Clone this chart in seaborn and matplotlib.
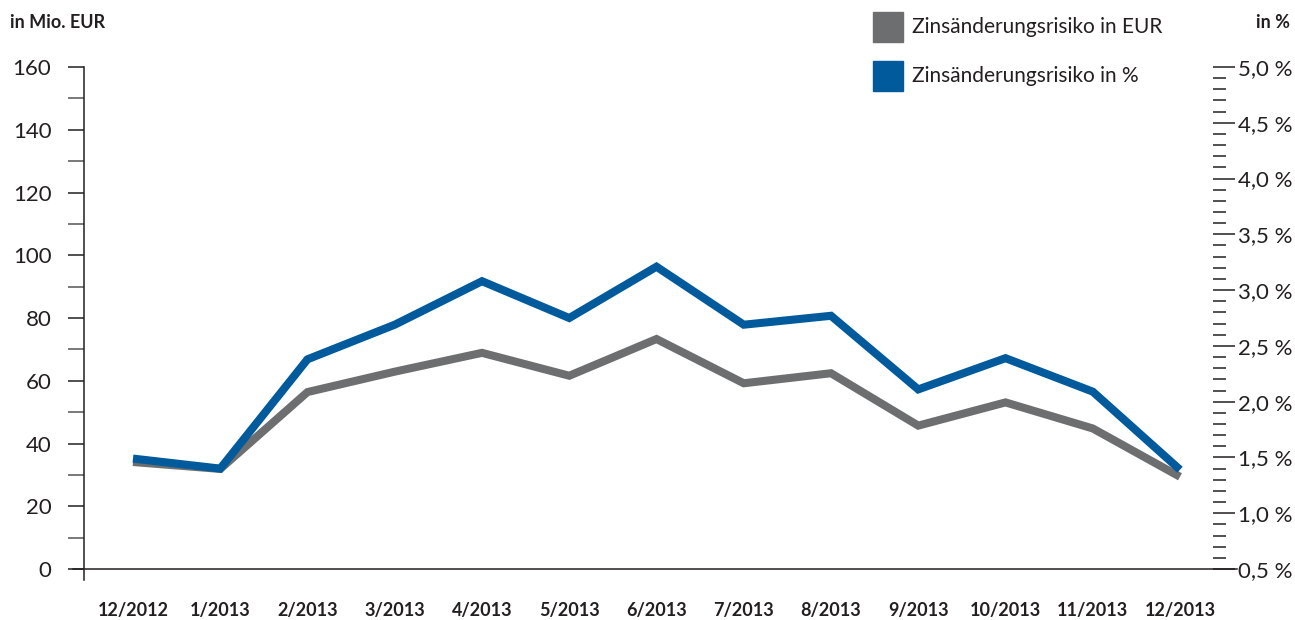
import numpy as np
import matplotlib
matplotlib.use("Agg")
import matplotlib.pyplot as plt
import seaborn as sns
from matplotlib.patches import Rectangle
from matplotlib.ticker import MultipleLocator, FuncFormatter

# ---- data ----
months = ["12/2012", "1/2013", "2/2013", "3/2013", "4/2013", "5/2013", "6/2013",
          "7/2013", "8/2013", "9/2013", "10/2013", "11/2013", "12/2013"]
risk_eur = [34.1, 31.9, 56.4, 62.9, 68.9, 61.6, 73.3, 59.2, 62.4, 45.7, 53.1, 44.8, 29.4]
risk_pct = [1.49, 1.40, 2.38, 2.69, 3.08, 2.75, 3.21, 2.69, 2.77, 2.11, 2.39, 2.09, 1.39]
label_eur = "Zinsänderungsrisiko in EUR"
label_pct = "Zinsänderungsrisiko in %"
left_unit = "in Mio. EUR"
right_unit = "in %"

GRAY = "#6d6e70"
BLUE = "#005a9c"
TXT = "#231f20"

sns.set_theme(style="white")
plt.rcParams["font.family"] = ["Lato", "DejaVu Sans"]

W, H = 1295, 620
fig = plt.figure(figsize=(W / 100, H / 100), dpi=100)
# axes spans pixel x 73..1237, y 67..580
ax = fig.add_axes([73 / W, 1 - 580 / H, (1237 - 73) / W, (580 - 67) / H])

x = np.arange(len(months))
sp = (1180 - 133) / 12.0
x_left = -(133 - 73) / sp
x_right = 12 + (1237 - 1180) / sp
x_lspine = -(133 - 84) / sp
x_rspine = 12 + (1213 - 1180) / sp

ybot = -3.5
ax.set_xlim(x_left, x_right)
ax.set_ylim(ybot, 160)

sns.lineplot(x=x, y=risk_eur, ax=ax, color=GRAY, linewidth=5.8, legend=False)
for ln in ax.lines:
    ln.set_solid_joinstyle("miter")
    ln.set_solid_capstyle("butt")

ax2 = ax.twinx()
ax2.set_ylim(0.5 + ybot * 4.5 / 160, 5.0)
sns.lineplot(x=x, y=risk_pct, ax=ax2, color=BLUE, linewidth=5.8, legend=False)
for ln in ax2.lines:
    ln.set_solid_joinstyle("miter")
    ln.set_solid_capstyle("butt")
ax2.set_xlim(x_left, x_right)

# left axis styling
for s in ["top", "right"]:
    ax.spines[s].set_visible(False)
ax.spines["left"].set_position(("data", x_lspine))
ax.spines["bottom"].set_position(("data", 0))
for s in ["left", "bottom"]:
    ax.spines[s].set_color(TXT)
    ax.spines[s].set_linewidth(1.1)
ax.yaxis.set_major_locator(MultipleLocator(20))
ax.yaxis.set_minor_locator(MultipleLocator(10))
ax.tick_params(axis="y", which="major", direction="out", length=11.5, width=1.1,
               color=TXT, labelsize=16, labelcolor=TXT, pad=12, left=True)
ax.tick_params(axis="y", which="minor", direction="out", length=11.5, width=1.1,
               color="#555555", left=True)
ax.set_xticks(x)
ax.set_xticklabels(months)
ax.tick_params(axis="x", which="both", length=0, pad=24, labelsize=13, labelcolor=TXT, bottom=True)
for t in ax.get_xticklabels():
    t.set_fontweight("bold")
ax.set_xlabel("")
ax.set_ylabel("")

# right axis styling
for s in ["top", "left", "bottom"]:
    ax2.spines[s].set_visible(False)
ax2.spines["right"].set_visible(False)
ax2.spines["right"].set_position(("data", x_rspine))
ax2.yaxis.set_major_locator(MultipleLocator(0.5))
ax2.yaxis.set_minor_locator(MultipleLocator(0.1))
ax2.yaxis.set_major_formatter(FuncFormatter(lambda v, p: f"{v:.1f} %".replace(".", ",")))
ax2.tick_params(axis="y", which="major", direction="out", length=16, width=1.1,
                color=TXT, labelsize=16, labelcolor=TXT, pad=2, right=True)
ax2.tick_params(axis="y", which="minor", direction="out", length=9.5, width=1.1,
                color=TXT, right=True)
ax2.set_ylim(0.5 + ybot * 4.5 / 160, 5.0)
ax2.set_yticks([v for v in np.arange(0.5, 5.01, 0.5)])
ax2.set_ylabel("")

# unit labels
fig.text(10 / W, 1 - 22 / H, left_unit, ha="left", va="center", fontsize=13,
         fontweight="bold", color=TXT)
fig.text(1290 / W, 1 - 22 / H, right_unit, ha="right", va="center", fontsize=13,
         fontweight="bold", color=TXT)

# legend
for i, (lab, col) in enumerate([(label_eur, GRAY), (label_pct, BLUE)]):
    yc = 27 + i * 49
    fig.patches.append(Rectangle((873 / W, 1 - (yc + 15) / H), 30 / W, 30 / H,
                                 transform=fig.transFigure, color=col, figure=fig))
    fig.text(912 / W, 1 - yc / H, lab, ha="left", va="center", fontsize=15,
             fontweight="normal", color=TXT)

fig.savefig("out.png", dpi=100)
